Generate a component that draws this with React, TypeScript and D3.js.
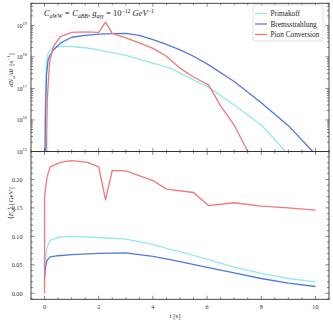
import React from "react";
import * as d3 from "d3";

// dN/dt [s^-1]
const primTopT = [0, 0.03, 0.07, 0.13, 0.21, 0.4, 0.58, 1.0, 1.5, 2.0, 3.0, 4.0, 4.64, 5.5, 6.05, 7.0, 8.0, 8.9, 9.5];
const primTopV = [1e13, 3.2e16, 6.3e17, 1.26e18, 1.66e18, 2.0e18, 2.14e18, 2.14e18, 1.95e18, 1.66e18, 1.12e18, 6.3e17, 4.4e17, 1.86e17, 1.1e17, 3.0e16, 6.9e15, 1e15, 3.2e14];

const bremTopT = [0, 0.03, 0.07, 0.13, 0.2, 0.33, 0.6, 1.0, 1.5, 2.0, 2.5, 3.0, 3.5, 4.0, 4.5, 5.0, 5.5, 6.0, 7.0, 8.0, 9.0, 9.9, 10.2];
const bremTopV = [1e13, 1e16, 2.5e17, 7.9e17, 1.12e18, 1.66e18, 2.8e18, 4.2e18, 4.8e18, 5.25e18, 5.5e18, 5.6e18, 4.8e18, 3.55e18, 2.5e18, 1.66e18, 1.05e18, 6.0e17, 1.66e17, 3.5e16, 6.6e15, 1e15, 5.6e14];

const pionTopT = [0.05, 0.08, 0.1, 0.15, 0.2, 0.33, 0.58, 1.0, 1.5, 2.0, 2.25, 2.5, 3.0, 3.5, 4.0, 4.5, 5.0, 5.5, 6.05, 6.5, 7.0, 7.5, 7.7];
const pionTopV = [1e13, 3.2e15, 4e16, 2.5e17, 7.9e17, 2.14e18, 4.4e18, 6.0e18, 6.2e18, 6.0e18, 1.26e19, 5.6e18, 4.0e18, 2.8e18, 1.86e18, 1.05e18, 4.4e17, 2.3e17, 1.3e17, 2.8e16, 6.9e15, 1e15, 5e14];

// <E_a> [GeV]
const primBotT = [0, 0.03, 0.09, 0.21, 0.58, 1.0, 2.0, 3.0, 4.0, 4.64, 5.0, 6.05, 7.0, 8.0, 9.0, 10.0];
const primBotV = [0.045, 0.06, 0.081, 0.093, 0.099, 0.1, 0.098, 0.095, 0.086, 0.077, 0.073, 0.059, 0.046, 0.035, 0.026, 0.02];

const bremBotT = [0, 0.03, 0.09, 0.21, 0.5, 1.0, 2.0, 3.0, 4.0, 4.64, 6.05, 7.0, 8.0, 9.0, 10.0];
const bremBotV = [0.025, 0.045, 0.058, 0.064, 0.066, 0.068, 0.07, 0.071, 0.065, 0.059, 0.045, 0.036, 0.026, 0.018, 0.012];

const pionBotT = [0, 0.001, 0.09, 0.21, 0.58, 1.0, 1.58, 2.0, 2.25, 2.5, 3.0, 4.0, 4.5, 5.5, 6.05, 7.0, 8.0, 9.0, 10.0];
const pionBotV = [0, 0.169, 0.204, 0.222, 0.23, 0.233, 0.23, 0.222, 0.164, 0.216, 0.215, 0.198, 0.183, 0.177, 0.154, 0.159, 0.153, 0.15, 0.146];

const seriesNames = ["Primakoff", "Bremsstrahlung", "Pion Conversion"];
const seriesColors = ["#93eaea", "#5079e0", "#f27878"];

const xTicks = [0, 2, 4, 6, 8, 10];
const topYTicks = [15, 16, 17, 18, 19];
const botYTicks = [0, 0.05, 0.1, 0.15, 0.2];

const L = 31, R = 329;
const T1 = 3.3, B1 = 151.5, B2 = 299.3;
const font = "'Liberation Serif', 'DejaVu Serif', serif";

export default function App() {
  const x = d3.scaleLinear().domain([-0.5, 10.5]).range([L, R]);
  const yTop = d3.scaleLog().domain([1e15, Math.pow(10, 19.7)]).range([B1, T1]);
  const yBot = d3.scaleLinear().domain([-0.0105, 0.249]).range([B2, B1]);

  const mk = (ts: number[], vs: number[], ys: any) =>
    d3.line<number>().x((_, i) => x(ts[i])).y((v) => ys(v))(vs) || "";

  const topPaths = [mk(primTopT, primTopV, yTop), mk(bremTopT, bremTopV, yTop), mk(pionTopT, pionTopV, yTop)];
  const botPaths = [mk(primBotT, primBotV, yBot), mk(bremBotT, bremBotV, yBot), mk(pionBotT, pionBotV, yBot)];

  const xMinor = d3.range(-0.5, 10.51, 0.5);
  const topMinor: number[] = [];
  for (let e = 15; e <= 19; e++) for (let m = 1; m <= 9; m++) {
    const v = m * Math.pow(10, e);
    if (v <= Math.pow(10, 19.7)) topMinor.push(v);
  }
  const botMinor = d3.range(-0.01, 0.2491, 0.01);

  const tick = "#333";
  const frame = (t: number, b: number) => (
    <rect x={L} y={t} width={R - L} height={b - t} fill="none" stroke="#333" strokeWidth={0.9} />
  );

  const xTickMarks = (yb: number, yt: number) => (
    <g stroke={tick} strokeWidth={0.6}>
      {xMinor.map((v, i) => {
        const major = Math.abs(v - Math.round(v / 2) * 2) < 1e-6;
        const len = major ? 3.5 : 2;
        return (
          <g key={i}>
            <line x1={x(v)} x2={x(v)} y1={yb} y2={yb - len} />
            <line x1={x(v)} x2={x(v)} y1={yt} y2={yt + len} />
          </g>
        );
      })}
    </g>
  );

  return (
    <svg width={333} height={325} style={{ position: "absolute", left: 0, top: 0 }} fontFamily={font}>
      <defs>
        <clipPath id="c1"><rect x={L} y={T1} width={R - L} height={B1 - T1} /></clipPath>
        <clipPath id="c2"><rect x={L} y={B1} width={R - L} height={B2 - B1} /></clipPath>
      </defs>
      <rect width={333} height={325} fill="#fff" />

      {/* top panel */}
      <g clipPath="url(#c1)" fill="none" strokeWidth={1.3}>
        {topPaths.map((d, i) => <path key={i} d={d} stroke={seriesColors[i]} strokeLinejoin="round" />)}
      </g>
      {/* bottom panel */}
      <g clipPath="url(#c2)" fill="none" strokeWidth={1.3}>
        {botPaths.map((d, i) => <path key={i} d={d} stroke={seriesColors[i]} strokeLinejoin="round" />)}
      </g>

      {xTickMarks(B1, T1)}
      {xTickMarks(B2, B1)}

      {/* y ticks */}
      <g stroke={tick} strokeWidth={0.6}>
        {topMinor.map((v, i) => {
          const major = topYTicks.some((e) => Math.abs(Math.log10(v) - e) < 1e-6);
          const len = major ? 3.5 : 2;
          return (
            <g key={i}>
              <line x1={L} x2={L + len} y1={yTop(v)} y2={yTop(v)} />
              <line x1={R} x2={R - len} y1={yTop(v)} y2={yTop(v)} />
            </g>
          );
        })}
        {botMinor.map((v, i) => {
          const major = botYTicks.some((t) => Math.abs(t - v) < 1e-6);
          const len = major ? 3.5 : 2;
          return (
            <g key={"b" + i}>
              <line x1={L} x2={L + len} y1={yBot(v)} y2={yBot(v)} />
              <line x1={R} x2={R - len} y1={yBot(v)} y2={yBot(v)} />
            </g>
          );
        })}
      </g>

      {frame(T1, B1)}
      {frame(B1, B2)}

      {/* tick labels */}
      <g fontSize={6.2} fill="#333">
        {topYTicks.map((e) => (
          <text key={e} x={L - 4} y={yTop(Math.pow(10, e)) + 2.2} textAnchor="end">
            10<tspan fontSize={4.4} dy={-2.8}>{e}</tspan>
          </text>
        ))}
        {botYTicks.map((v) => (
          <text key={v} x={L - 8.5} y={yBot(v) + 2.2} textAnchor="end">{v.toFixed(2)}</text>
        ))}
        {xTicks.map((v) => (
          <text key={v} x={x(v)} y={309} textAnchor="middle">{v}</text>
        ))}
      </g>

      {/* axis labels */}
      <text transform={`translate(13.2,70) rotate(-90)`} textAnchor="middle" fontSize={7} fill="#333">
        <tspan fontStyle="italic">dN</tspan><tspan fontStyle="italic" fontSize={5} dy={1.3}>a</tspan>
        <tspan fontStyle="italic" dy={-1.3}>/dt</tspan>
        <tspan dx={3}>[s</tspan><tspan fontSize={5} dy={-2.8}>−1</tspan><tspan dy={2.8}>]</tspan>
      </text>
      <text transform={`translate(13.2,203) rotate(-90)`} textAnchor="middle" fontSize={7} fill="#333">
        ⟨<tspan fontStyle="italic">E</tspan><tspan fontStyle="italic" fontSize={5} dy={1.3}>a</tspan>
        <tspan dy={-1.3}>⟩ [GeV]</tspan>
      </text>
      <text x={175} y={318} textAnchor="middle" fontSize={7} fill="#333">
        <tspan fontStyle="italic">t</tspan> [s]
      </text>

      {/* annotation */}
      <text x={44} y={16} fontSize={8.5} fill="#222" fontStyle="italic">
        C<tspan fontSize={5.8} dy={1.5}>aWW</tspan><tspan dy={-1.5}> = C</tspan><tspan fontSize={5.8} dy={1.5}>aBB</tspan>
        <tspan dy={-1.5} fontStyle="normal">, </tspan>g<tspan fontSize={5.8} dy={1.5}>aγγ</tspan>
        <tspan dy={-1.5} fontStyle="normal"> = 10</tspan><tspan fontSize={5.8} dy={-3.5} fontStyle="normal">−12</tspan>
        <tspan dy={3.5}> GeV</tspan><tspan fontSize={5.8} dy={-3.5} fontStyle="normal">−1</tspan>
      </text>

      {/* legend */}
      <g>
        <rect x={253} y={5} width={70} height={36} rx={2} fill="#fff" fillOpacity={0.85} stroke="#d5d5d5" strokeWidth={0.7} />
        {seriesNames.map((n, i) => (
          <g key={n} transform={`translate(0,${13.5 + i * 10.5})`}>
            <line x1={255} x2={267} y1={0} y2={0} stroke={seriesColors[i]} strokeWidth={1.3} />
            <text x={270.5} y={2.6} fontSize={7.3} fill="#222">{n}</text>
          </g>
        ))}
      </g>
    </svg>
  );
}
